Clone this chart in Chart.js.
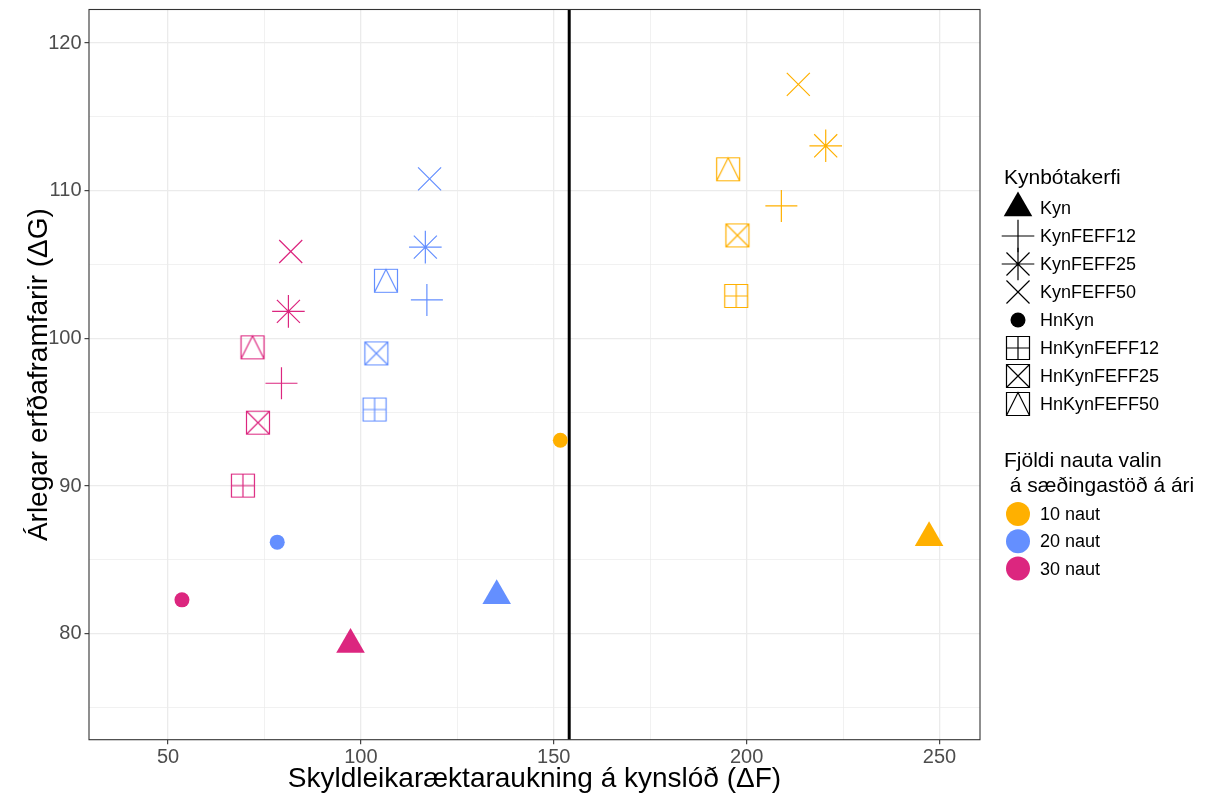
<!DOCTYPE html>
<html>
<head>
<meta charset="utf-8">
<script src="https://cdn.jsdelivr.net/npm/chart.js@4.4.1/dist/chart.umd.min.js"></script>
<style>
  html, body { margin: 0; padding: 0; background: #ffffff; }
  canvas { display: block; }
</style>
</head>
<body>
<canvas id="chart" width="1207" height="798"></canvas>
<script>
// Breeding systems (shape legend) and bulls selected per year (colour legend)
const SYSTEMS = ['Kyn', 'KynFEFF12', 'KynFEFF25', 'KynFEFF50', 'HnKyn', 'HnKynFEFF12', 'HnKynFEFF25', 'HnKynFEFF50'];
const GROUPS = ['10 naut', '20 naut', '30 naut'];

// ΔF (x) and ΔG (y) for each system, in SYSTEMS order
const DF_10 = [247.3, 209.0, 220.5, 213.4, 151.7, 197.3, 197.6, 195.2];
const DG_10 = [86.5, 108.97, 113.04, 117.2, 93.1, 102.87, 106.97, 111.45];
const DF_20 = [135.2, 117.1, 116.7, 117.8, 78.3, 103.55, 104.0, 106.5];
const DG_20 = [82.56, 102.6, 106.18, 110.8, 86.2, 95.18, 98.98, 103.9];
const DF_30 = [97.3, 79.4, 81.2, 81.8, 53.6, 69.4, 73.3, 71.9];
const DG_30 = [79.27, 96.96, 101.83, 105.88, 82.29, 90.03, 94.29, 99.39];

// Axis ticks and the reference line
const X_TICKS = [50, 100, 150, 200, 250];
const X_MINOR = [75, 125, 175, 225];
const Y_TICKS = [80, 90, 100, 110, 120];
const Y_MINOR = [75, 85, 95, 105, 115];
const REF_DF = 154;

const X_TITLE = 'Skyldleikaræktaraukning á kynslóð (ΔF)';
const Y_TITLE = 'Árlegar erfðaframfarir (ΔG)';
const SHAPE_TITLE = 'Kynbótakerfi';
const COLOUR_TITLE = ['Fjöldi nauta valin', ' á sæðingastöð á ári'];

const COLOURS = ['#FFB000', '#648FFF', '#DC267F'];
const FONT = '"Liberation Sans", Arial, sans-serif';
const LINE_W = 1.2;

// Shape per system
const SHAPES = ['triangle', 'plus', 'asterisk', 'cross', 'circle', 'sqPlus', 'sqCross', 'sqTriangle'];

function drawShape(ctx, shape, x, y, colour) {
  ctx.save();
  ctx.fillStyle = colour;
  ctx.strokeStyle = colour;
  ctx.lineWidth = LINE_W;
  ctx.beginPath();
  const r = 16.3, d = r * Math.SQRT1_2, h = 11.5;
  switch (shape) {
    case 'triangle': {
      const t = 16.5;
      ctx.moveTo(x, y - t);
      ctx.lineTo(x + t * Math.sin(2 * Math.PI / 3), y + t / 2);
      ctx.lineTo(x - t * Math.sin(2 * Math.PI / 3), y + t / 2);
      ctx.closePath();
      ctx.fill();
      break;
    }
    case 'circle':
      ctx.arc(x, y, 7.5, 0, Math.PI * 2);
      ctx.fill();
      break;
    case 'plus':
      ctx.moveTo(x - r, y); ctx.lineTo(x + r, y);
      ctx.moveTo(x, y - r); ctx.lineTo(x, y + r);
      ctx.stroke();
      break;
    case 'cross':
      ctx.moveTo(x - d, y - d); ctx.lineTo(x + d, y + d);
      ctx.moveTo(x - d, y + d); ctx.lineTo(x + d, y - d);
      ctx.stroke();
      break;
    case 'asterisk':
      ctx.moveTo(x - r, y); ctx.lineTo(x + r, y);
      ctx.moveTo(x, y - r); ctx.lineTo(x, y + r);
      ctx.moveTo(x - d, y - d); ctx.lineTo(x + d, y + d);
      ctx.moveTo(x - d, y + d); ctx.lineTo(x + d, y - d);
      ctx.stroke();
      break;
    case 'sqPlus':
      ctx.rect(x - h, y - h, 2 * h, 2 * h);
      ctx.moveTo(x - h, y); ctx.lineTo(x + h, y);
      ctx.moveTo(x, y - h); ctx.lineTo(x, y + h);
      ctx.stroke();
      break;
    case 'sqCross':
      ctx.rect(x - h, y - h, 2 * h, 2 * h);
      ctx.moveTo(x - h, y - h); ctx.lineTo(x + h, y + h);
      ctx.moveTo(x - h, y + h); ctx.lineTo(x + h, y - h);
      ctx.stroke();
      break;
    case 'sqTriangle':
      ctx.rect(x - h, y - h, 2 * h, 2 * h);
      ctx.moveTo(x - h, y + h); ctx.lineTo(x, y - h); ctx.lineTo(x + h, y + h);
      ctx.stroke();
      break;
  }
  ctx.restore();
}

// Sprite for the boxed shapes, which have no built-in point style
function sprite(shape, colour) {
  const c = document.createElement('canvas');
  c.width = 28; c.height = 28;
  drawShape(c.getContext('2d'), shape, 14, 14, colour);
  return c;
}

function pointStyles(colour) {
  return SHAPES.map(s => {
    if (s === 'triangle') return 'triangle';
    if (s === 'circle') return 'circle';
    if (s === 'plus') return 'cross';
    if (s === 'cross') return 'crossRot';
    if (s === 'asterisk') return 'star';
    return sprite(s, colour);
  });
}
const RADII = SHAPES.map(s => s === 'triangle' ? 16.5 : s === 'circle' ? 7.5 : s === 'plus' ? 16 : 16.3);
const BORDERS = SHAPES.map(s => (s === 'triangle' || s === 'circle') ? 0 : LINE_W);

const SERIES = [[DF_10, DG_10], [DF_20, DG_20], [DF_30, DG_30]];
const datasets = SERIES.map(([xs, ys], g) => ({
  label: GROUPS[g],
  data: xs.map((x, i) => ({ x, y: ys[i] })),
  pointStyle: pointStyles(COLOURS[g]),
  pointRadius: RADII,
  pointHoverRadius: RADII,
  pointBorderWidth: BORDERS,
  pointBackgroundColor: COLOURS[g],
  pointBorderColor: COLOURS[g],
  showLine: false
}));

function axisTicks(major, minor) {
  return scale => {
    scale.ticks = major.concat(minor).sort((a, b) => a - b).map(v => ({ value: v }));
  };
}
function gridOpts(major) {
  return {
    color: '#EBEBEB',
    lineWidth: c => major.includes(c.tick.value) ? 1.3 : 0.7,
    tickColor: c => major.includes(c.tick.value) ? '#333333' : 'rgba(0,0,0,0)',
    tickWidth: 1.1,
    tickLength: 4.5,
    drawOnChartArea: true
  };
}
function noPadding(s) {
  s.paddingTop = 0; s.paddingBottom = 0; s.paddingLeft = 0; s.paddingRight = 0;
}

// Panel frame, reference line, axis titles and the two legends
const decor = {
  id: 'decor',
  beforeDatasetsDraw(chart) {
    const { ctx, chartArea: a, scales: { x } } = chart;
    const px = x.getPixelForValue(REF_DF);
    ctx.save();
    ctx.strokeStyle = '#000000';
    ctx.lineWidth = 3;
    ctx.beginPath();
    ctx.moveTo(px, a.top);
    ctx.lineTo(px, a.bottom);
    ctx.stroke();
    ctx.restore();
  },
  afterDraw(chart) {
    const { ctx, chartArea: a } = chart;
    ctx.save();
    ctx.strokeStyle = '#333333';
    ctx.lineWidth = 1.1;
    ctx.strokeRect(a.left, a.top, a.right - a.left, a.bottom - a.top);

    ctx.fillStyle = '#000000';
    ctx.font = '28px ' + FONT;
    ctx.textAlign = 'center';
    ctx.textBaseline = 'alphabetic';
    ctx.fillText(X_TITLE, (a.left + a.right) / 2, 787);
    ctx.save();
    ctx.translate(47, (a.top + a.bottom) / 2);
    ctx.rotate(-Math.PI / 2);
    ctx.fillText(Y_TITLE, 0, 0);
    ctx.restore();

    ctx.textAlign = 'left';
    ctx.textBaseline = 'middle';
    ctx.font = '21px ' + FONT;
    ctx.fillText(SHAPE_TITLE, 1004, 178);
    ctx.font = '18px ' + FONT;
    SYSTEMS.forEach((s, i) => {
      const y = 208 + i * 28;
      drawShape(ctx, SHAPES[i], 1018, y, '#000000');
      ctx.fillStyle = '#000000';
      ctx.fillText(s, 1040, y + 1);
    });

    ctx.font = '21px ' + FONT;
    ctx.fillText(COLOUR_TITLE[0], 1004, 461);
    ctx.fillText(COLOUR_TITLE[1], 1004, 486);
    ctx.font = '18px ' + FONT;
    GROUPS.forEach((g, i) => {
      const y = 514 + i * 27.3;
      ctx.fillStyle = COLOURS[i];
      ctx.beginPath();
      ctx.arc(1018, y, 12, 0, Math.PI * 2);
      ctx.fill();
      ctx.fillStyle = '#000000';
      ctx.fillText(g, 1040, y + 1);
    });
    ctx.restore();
  }
};

new Chart(document.getElementById('chart'), {
  type: 'scatter',
  data: { datasets },
  options: {
    responsive: false,
    animation: false,
    devicePixelRatio: 1,
    layout: { autoPadding: false, padding: { left: 0, top: 9.5, right: 227, bottom: 0 } },
    plugins: { legend: { display: false }, tooltip: { enabled: false } },
    scales: {
      x: {
        type: 'linear',
        min: 29.5,
        max: 260.5,
        afterBuildTicks: axisTicks(X_TICKS, X_MINOR),
        afterFit: s => { s.height = 58.3; noPadding(s); },
        grid: gridOpts(X_TICKS),
        border: { display: false },
        ticks: {
          autoSkip: false,
          maxRotation: 0,
          padding: 1,
          color: '#4D4D4D',
          font: { family: FONT, size: 20 },
          callback: v => X_TICKS.includes(v) ? String(v) : ''
        }
      },
      y: {
        type: 'linear',
        min: 72.82,
        max: 122.27,
        afterBuildTicks: axisTicks(Y_TICKS, Y_MINOR),
        afterFit: s => { s.width = 89; noPadding(s); },
        grid: gridOpts(Y_TICKS),
        border: { display: false },
        ticks: {
          autoSkip: false,
          padding: 3,
          color: '#4D4D4D',
          font: { family: FONT, size: 20 },
          callback: v => Y_TICKS.includes(v) ? String(v) : ''
        }
      }
    }
  },
  plugins: [decor]
});
</script>
</body>
</html>
